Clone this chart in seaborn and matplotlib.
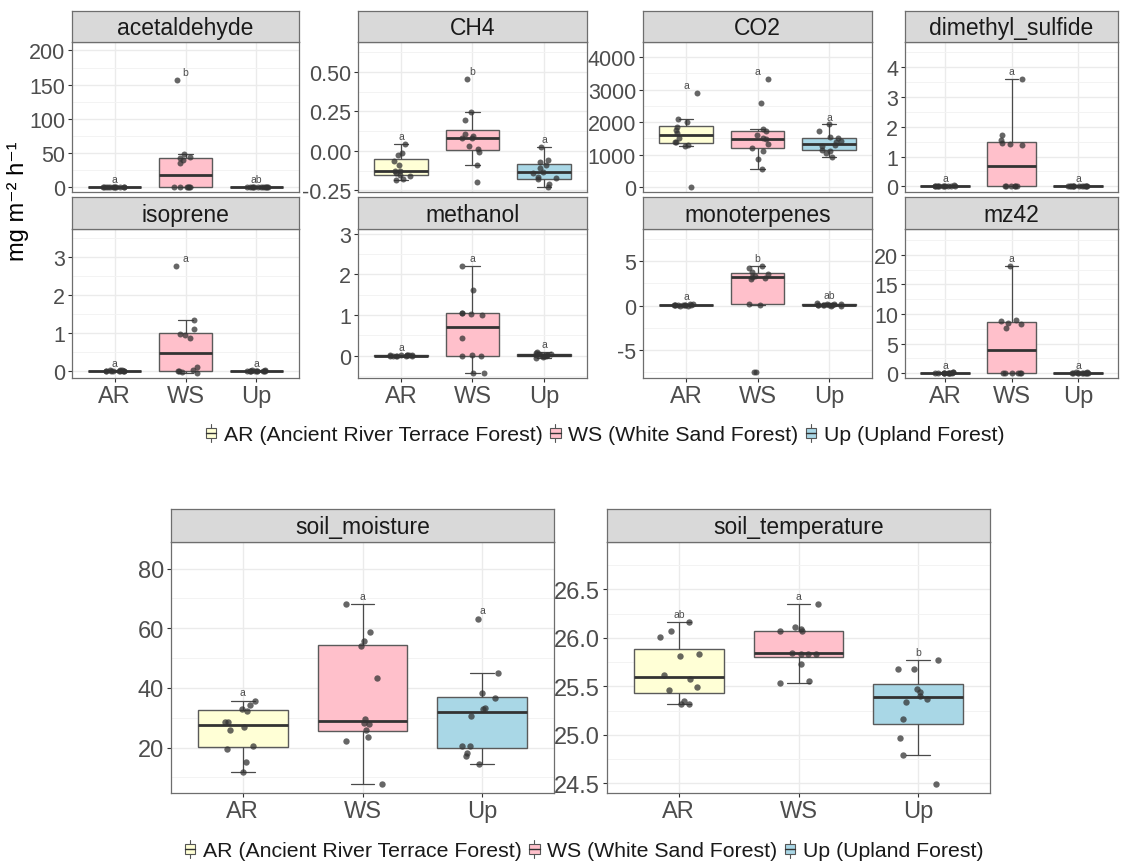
import numpy as np
import pandas as pd
import matplotlib
matplotlib.use("Agg")
import matplotlib.pyplot as plt
import seaborn as sns
from matplotlib.patches import Rectangle, Patch
from matplotlib.lines import Line2D
from matplotlib.legend_handler import HandlerBase
from matplotlib.ticker import FixedLocator

sns.set_theme(style="white")
plt.rcParams['font.family'] = ['Liberation Sans', 'DejaVu Sans']

# ---------------- data ----------------
groups = ["AR", "WS", "Up"]
legend_labels = ["AR (Ancient River Terrace Forest)", "WS (White Sand Forest)", "Up (Upland Forest)"]
colors = ["#FFFFD6", "#FFC0CB", "#A9D7E6"]
y_title = "mg m⁻² h⁻¹"

acetaldehyde_AR = [0.0, 0.0, 0.1, 0.1, 0.2, 0.0, 0.3, 0.1, 0.0, 0.2, 0.1, 0.0]
acetaldehyde_WS = [0, 0, 0, 0, 0, 0.3, 35, 40, 42, 44, 48, 157]
acetaldehyde_Up = [0.0, 0.1, 0.2, 0.0, 0.4, 0.1, 0.0, 0.3, 0.1, 0.2, 0.0, 0.1]
acetaldehyde_letters = ["a", "b", "ab"]
acetaldehyde_ticks = [0, 50, 100, 150, 200]
acetaldehyde_ticklabels = ["0", "50", "100", "150", "200"]

CH4_AR = [0.042, -0.017, -0.025, -0.064, -0.093, -0.125, -0.13, -0.14, -0.155, -0.16, -0.18, -0.186]
CH4_WS = [0.453, 0.246, 0.197, 0.108, 0.095, 0.078, 0.078, 0.03, 0.011, -0.008, -0.091, -0.2]
CH4_Up = [0.025, -0.057, -0.074, -0.09, -0.108, -0.133, -0.138, -0.165, -0.174, -0.18, -0.208, -0.227]
CH4_letters = ["a", "b", "a"]
CH4_ticks = [-0.25, 0.0, 0.25, 0.5]
CH4_ticklabels = ["-0.25", "0.00", "0.25", "0.50"]

CO2_AR = [10, 1250, 1290, 1371, 1371, 1520, 1660, 1753, 1845, 2010, 2090, 2897]
CO2_WS = [567, 856, 1113, 1210, 1320, 1464, 1495, 1598, 1711, 1784, 2588, 3320]
CO2_Up = [938, 1041, 1103, 1144, 1247, 1299, 1371, 1412, 1495, 1526, 1732, 1928]
CO2_letters = ["a", "a", "a"]
CO2_ticks = [0, 1000, 2000, 3000, 4000]
CO2_ticklabels = ["0", "1000", "2000", "3000", "4000"]

dms_AR = [0.0, 0.01, 0.0, 0.02, 0.0, 0.01, 0.0, 0.03, 0.01, 0.0, 0.02, 0.0]
dms_WS = [0, 0, 0, 0, 0, 0, 1.39, 1.42, 1.44, 1.57, 1.73, 3.6]
dms_Up = [0.0, 0.01, 0.0, 0.02, 0.01, 0.0, 0.0, 0.02, 0.01, 0.0, 0.01, 0.0]
dms_letters = ["a", "a", "a"]
dms_ticks = [0, 1, 2, 3, 4]
dms_ticklabels = ["0", "1", "2", "3", "4"]

isoprene_AR = [0.0, 0.01, 0.02, 0.0, 0.01, 0.0, 0.02, 0.01, 0.0, 0.0, 0.01, 0.02]
isoprene_WS = [-0.04, -0.02, 0.0, 0.0, 0.02, 0.105, 0.86, 0.95, 0.98, 1.11, 1.34, 2.78]
isoprene_Up = [0.0, 0.01, 0.0, 0.02, 0.01, 0.0, 0.01, 0.0, 0.02, 0.0, 0.01, 0.0]
isoprene_letters = ["a", "a", "a"]
isoprene_ticks = [0, 1, 2, 3]
isoprene_ticklabels = ["0", "1", "2", "3"]

methanol_AR = [0.0, 0.01, 0.0, 0.02, 0.0, 0.01, 0.0, 0.01, 0.02, 0.0, 0.01, 0.0]
methanol_WS = [-0.42, -0.42, 0.0, 0.0, 0.02, 0.43, 1.0, 1.03, 1.05, 1.06, 1.63, 2.22]
methanol_Up = [-0.05, -0.04, 0.0, 0.0, 0.01, 0.02, 0.03, 0.03, 0.04, 0.05, 0.06, 0.1]
methanol_letters = ["a", "a", "a"]
methanol_ticks = [0, 1, 2, 3]
methanol_ticklabels = ["0", "1", "2", "3"]

mono_AR = [0.0, 0.05, 0.1, 0.1, 0.1, 0.05, 0.15, 0.2, 0.0, 0.1, 0.05, 0.1]
mono_WS = [-7.53, -7.53, 0.11, 0.15, 3.0, 3.1, 3.22, 3.33, 3.6, 3.82, 4.23, 4.49]
mono_Up = [0.0, 0.1, 0.05, 0.15, 0.3, 0.1, 0.2, 0.05, 0.1, 0.0, 0.15, 0.1]
mono_letters = ["a", "b", "ab"]
mono_ticks = [-5, 0, 5]
mono_ticklabels = ["-5", "0", "5"]

mz42_AR = [0.0, 0.05, 0.0, 0.1, 0.0, 0.05, 0.0, 0.1, 0.0, 0.05, 0.0, 0.0]
mz42_WS = [0, 0, 0, 0, 0, 0, 7.7, 8.3, 8.45, 8.9, 9.0, 18.1]
mz42_Up = [0.0, 0.05, 0.0, 0.1, 0.0, 0.0, 0.05, 0.0, 0.1, 0.0, 0.0, 0.05]
mz42_letters = ["a", "a", "a"]
mz42_ticks = [0, 5, 10, 15, 20]
mz42_ticklabels = ["0", "5", "10", "15", "20"]

moist_AR = [11.9, 15.2, 19.7, 20.6, 26.0, 26.9, 28.5, 28.7, 32.3, 33.1, 34.4, 35.7]
moist_WS = [7.9, 22.2, 23.7, 26.0, 27.8, 28.3, 29.6, 43.4, 54.0, 55.7, 58.6, 68.0]
moist_Up = [14.6, 17.3, 18.1, 20.4, 20.5, 30.7, 33.0, 33.3, 36.6, 38.3, 45.0, 63.2]
moist_letters = ["a", "a", "a"]
moist_ticks = [20, 40, 60, 80]
moist_ticklabels = ["20", "40", "60", "80"]

temp_AR = [25.323, 25.323, 25.354, 25.464, 25.491, 25.574, 25.618, 25.81, 25.838, 26.009, 26.068, 26.164]
temp_WS = [25.533, 25.56, 25.728, 25.831, 25.838, 25.838, 25.845, 26.068, 26.068, 26.095, 26.116, 26.346]
temp_Up = [24.49, 24.79, 24.97, 25.166, 25.344, 25.371, 25.406, 25.44, 25.478, 25.677, 25.684, 25.769]
temp_letters = ["ab", "a", "b"]
temp_ticks = [24.5, 25.0, 25.5, 26.0, 26.5]
temp_ticklabels = ["24.5", "25.0", "25.5", "26.0", "26.5"]

# ---------------- layout (pixels) ----------------
W, H = 1124, 862
fig = plt.figure(figsize=(W / 100, H / 100), dpi=100)
fig.patch.set_facecolor("white")

GRID = "#EBEBEB"
BORDER = "#6E6E6E"

panels = [
    ("acetaldehyde", (acetaldehyde_AR, acetaldehyde_WS, acetaldehyde_Up), acetaldehyde_letters,
     acetaldehyde_ticks, acetaldehyde_ticklabels, (-7.4, 212.4), 72, 299, 12, 43, 193, False, False),
    ("CH4", (CH4_AR, CH4_WS, CH4_Up), CH4_letters, CH4_ticks, CH4_ticklabels,
     (-0.261, 0.689), 358, 587, 12, 43, 193, False, False),
    ("CO2", (CO2_AR, CO2_WS, CO2_Up), CO2_letters, CO2_ticks, CO2_ticklabels,
     (-155, 4466), 643, 872, 12, 43, 193, False, False),
    ("dimethyl_sulfide", (dms_AR, dms_WS, dms_Up), dms_letters, dms_ticks, dms_ticklabels,
     (-0.19, 4.84), 905, 1118, 12, 43, 193, False, False),
    ("isoprene", (isoprene_AR, isoprene_WS, isoprene_Up), isoprene_letters, isoprene_ticks,
     isoprene_ticklabels, (-0.184, 3.745), 72, 299, 198, 230, 379, True, False),
    ("methanol", (methanol_AR, methanol_WS, methanol_Up), methanol_letters, methanol_ticks,
     methanol_ticklabels, (-0.548, 3.12), 358, 587, 198, 230, 379, True, False),
    ("monoterpenes", (mono_AR, mono_WS, mono_Up), mono_letters, mono_ticks, mono_ticklabels,
     (-8.16, 8.62), 643, 872, 198, 230, 379, True, False),
    ("mz42", (mz42_AR, mz42_WS, mz42_Up), mz42_letters, mz42_ticks, mz42_ticklabels,
     (-0.84, 24.4), 905, 1118, 198, 230, 379, True, False),
    ("soil_moisture", (moist_AR, moist_WS, moist_Up), moist_letters, moist_ticks, moist_ticklabels,
     (4.8, 88.9), 171, 554, 510, 543, 794, True, True),
    ("soil_temperature", (temp_AR, temp_WS, temp_Up), temp_letters, temp_ticks, temp_ticklabels,
     (24.40, 26.99), 607, 990, 510, 543, 794, True, True),
]

np.random.seed(3)

def fig_rect(x0, x1, ytop, ybot):
    return [x0 / W, 1 - ybot / H, (x1 - x0) / W, (ybot - ytop) / H]

for (name, vals, letters, ticks, ticklabels, ylim, x0, x1, stop, ptop, pbot, xlab, big) in panels:
    ax = fig.add_axes(fig_rect(x0, x1, ptop, pbot))
    df = pd.DataFrame({
        "group": np.repeat(groups, [len(v) for v in vals]),
        "value": np.concatenate([np.asarray(v, float) for v in vals]),
    })
    ax.set_axisbelow(True)
    sns.boxplot(data=df, x="group", y="value", hue="group", order=groups, hue_order=groups,
                palette=colors, saturation=1, width=0.75, showfliers=False, legend=False, ax=ax,
                linewidth=1.0, linecolor="#5A5A5A",
                medianprops=dict(color="#333333", linewidth=2.0),
                whiskerprops=dict(color="#4A4A4A", linewidth=0.9),
                capprops=dict(color="#4A4A4A", linewidth=0.9))
    for ln in ax.lines:
        xd = np.asarray(ln.get_xdata(), float)
        yd = np.asarray(ln.get_ydata(), float)
        if len(xd) == 2 and yd[0] == yd[1] and 0 < (xd[1] - xd[0]) < 0.6:
            c = xd.mean()
            ln.set_xdata([c - 0.1, c + 0.1])
    sns.stripplot(data=df, x="group", y="value", order=groups, color="#333333", alpha=0.75,
                  size=4.6 if big else 4.3, jitter=0.17, linewidth=0, ax=ax, zorder=5)
    ax.set_xlim(-0.6, 2.6)
    ax.set_ylim(*ylim)
    ax.yaxis.set_major_locator(FixedLocator(ticks))
    ax.set_yticklabels(ticklabels)
    step = ticks[1] - ticks[0]
    minors = np.arange(ticks[0] - step / 2, ticks[-1] + step, step)
    ax.yaxis.set_minor_locator(FixedLocator(minors))
    ax.grid(True, which="major", axis="both", color=GRID, linewidth=1.0)
    ax.grid(True, which="minor", axis="y", color="#F3F3F3", linewidth=0.7)
    ax.set_xlabel("")
    ax.set_ylabel("")
    fs_tick = 17 if big else 15.5
    ax.tick_params(axis="y", which="major", direction="out", length=3, width=0.8, color="#333333",
                   labelcolor="#4D4D4D", labelsize=fs_tick, pad=2, left=True)
    ax.tick_params(axis="y", which="minor", length=0, left=False)
    if xlab:
        ax.tick_params(axis="x", direction="out", length=3, width=0.8, color="#333333",
                       labelcolor="#4D4D4D", labelsize=17, pad=2, bottom=True)
    else:
        ax.tick_params(axis="x", bottom=False, labelbottom=False)
    for sp in ax.spines.values():
        sp.set_visible(True)
        sp.set_color(BORDER)
        sp.set_linewidth(0.9)
    rng = ylim[1] - ylim[0]
    off = (0.033 if big else 0.052) * rng
    for i, (v, let) in enumerate(zip(vals, letters)):
        ax.text(i, max(v) + off, let, ha="center", va="center", fontsize=7.5,
                color="#4D4D4D", zorder=6)
    sax = fig.add_axes(fig_rect(x0, x1, stop, ptop))
    sax.set_facecolor("#D9D9D9")
    sax.set_xticks([])
    sax.set_yticks([])
    for sp in sax.spines.values():
        sp.set_visible(True)
        sp.set_color(BORDER)
        sp.set_linewidth(0.9)
    sax.text(0.5, 0.46, name, transform=sax.transAxes, ha="center", va="center",
             fontsize=16.5, color="#1A1A1A")

fig.text(18 / W, 1 - 201 / H, y_title, rotation=90, ha="center", va="center",
         fontsize=17, color="black")

class BoxKey(HandlerBase):
    def create_artists(self, legend, orig_handle, xdescent, ydescent, width, height, fontsize, trans):
        x0, y0 = -xdescent, -ydescent
        fc = orig_handle.get_facecolor()
        cx = x0 + width / 2
        arts = [
            Line2D([cx, cx], [y0, y0 + height], color="#555555", lw=0.8, transform=trans),
            Rectangle((x0, y0 + 0.22 * height), width, 0.56 * height, facecolor=fc,
                      edgecolor="#555555", lw=0.8, transform=trans),
            Line2D([x0, x0 + width], [y0 + 0.5 * height] * 2, color="#333333", lw=1.0,
                   transform=trans),
        ]
        return arts

handles = [Patch(facecolor=c) for c in colors]
for ycen, xcen in [(435, 605), (851, 584)]:
    fig.legend(handles, legend_labels, handler_map={Patch: BoxKey()}, loc="center",
               bbox_to_anchor=(xcen / W, 1 - ycen / H), ncol=3, frameon=False,
               fontsize=15.3, handlelength=0.5, handleheight=0.9, handletextpad=0.35,
               columnspacing=0.35, borderpad=0, labelcolor="#1A1A1A")

fig.savefig("out.png", dpi=100, facecolor="white")
